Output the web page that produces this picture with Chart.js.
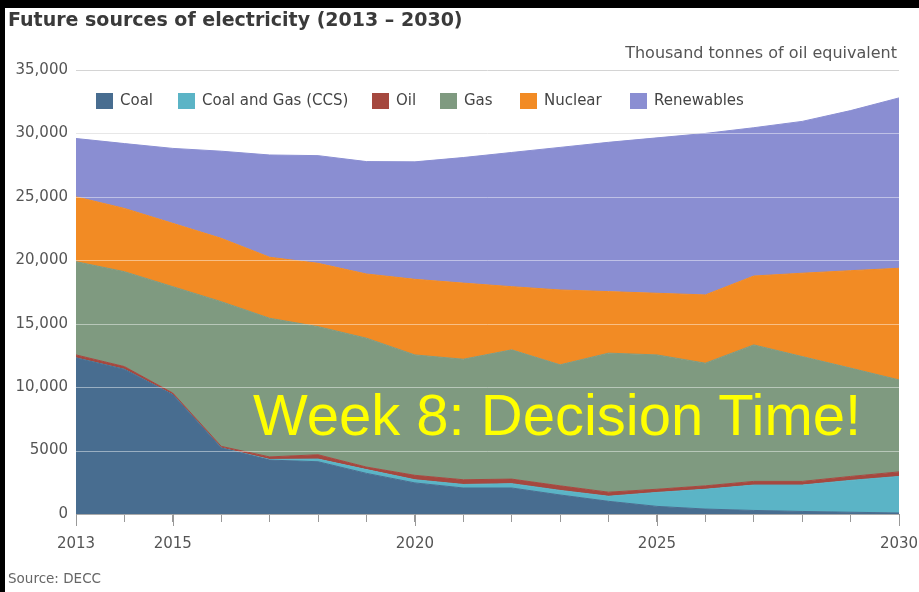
<!DOCTYPE html>
<html><head><meta charset="utf-8">
<script src="https://cdn.jsdelivr.net/npm/chart.js@4/dist/chart.umd.min.js"></script>
<style>
html,body{margin:0;padding:0;background:#000;width:919px;height:592px;overflow:hidden;}
#panel{position:absolute;left:5px;top:8px;width:914px;height:584px;background:#fff;}
#c{position:absolute;left:0;top:0;}
.t{position:absolute;white-space:nowrap;font-family:"DejaVu Sans",sans-serif;}
#title{left:8px;top:8px;font-size:19px;font-weight:bold;color:#3a3a3a;line-height:23px;}
#unit{right:22px;top:43px;font-size:16px;color:#555;line-height:20px;}
#source{left:8px;top:570px;font-size:13.5px;color:#666;line-height:16px;}
#overlay{left:253px;top:382px;font-family:"Liberation Sans",Arial,sans-serif;font-size:58px;color:#ffff00;line-height:66px;}
</style></head>
<body>
<div id="panel"></div>
<canvas id="c" width="919" height="592"></canvas>
<div class="t" id="title">Future sources of electricity (2013 – 2030)</div>
<div class="t" id="unit">Thousand tonnes of oil equivalent</div>
<div class="t" id="source">Source: DECC</div>
<div class="t" id="overlay">Week 8: Decision Time!</div>
<script>
const years = [2013,2014,2015,2016,2017,2018,2019,2020,2021,2022,2023,2024,2025,2026,2027,2028,2029,2030];
const coal       = [12300,11400,9400,5200,4250,4120,3200,2450,2050,2050,1500,1000,600,390,280,200,140,80];
const ccs        = [0,0,0,0,50,210,300,250,280,340,360,400,1100,1560,2000,2080,2510,2880];
const oil        = [240,220,130,130,200,340,200,350,370,360,360,320,250,270,290,290,310,360];
const gas        = [7350,7480,8390,11410,10930,10100,10160,9490,9500,10190,9540,10960,10590,9670,10760,9840,8540,7250];
const nuclear    = [5110,4990,4990,4990,4810,4990,5060,5960,6000,4980,5900,4850,4860,5380,5430,6570,7680,8800];
const renewables = [4600,5110,5910,6870,8060,8490,8860,9260,9900,10580,11240,11770,12250,12730,11690,11970,12620,13430];
const seriesNames  = ['Coal','Coal and Gas (CCS)','Oil','Gas','Nuclear','Renewables'];
const seriesValues = [coal, ccs, oil, gas, nuclear, renewables];
const seriesColors = ['#486d90','#5bb4c6','#a5483f','#7f9a80','#f28b24','#8a8ed2'];
const yTicks = [0,5000,10000,15000,20000,25000,30000,35000];
const xLabelYears = [2013,2015,2020,2025,2030];
const legendX = [96,178,372,440,520,630];

const FONT = '"DejaVu Sans", sans-serif';

const datasets = seriesNames.map((name,i)=>({
  label: name,
  data: years.map((yr,j)=>({x:yr, y:seriesValues[i][j]})),
  backgroundColor: seriesColors[i],
  borderColor: seriesColors[i],
  borderWidth: 1,
  pointRadius: 0,
  tension: 0,
  fill: i===0 ? 'origin' : '-1'
}));

const overlayPlugin = {
  id:'overlayPlugin',
  afterDatasetsDraw(chart){
    const {ctx, chartArea:a, scales:{x,y}} = chart;
    ctx.save();
    ctx.strokeStyle='rgba(255,255,255,0.45)';
    ctx.lineWidth=1;
    yTicks.forEach(v=>{
      if(v===0||v===35000) return;
      const py=Math.round(y.getPixelForValue(v))+0.5;
      ctx.beginPath(); ctx.moveTo(a.left,py); ctx.lineTo(a.right,py); ctx.stroke();
    });
    ctx.strokeStyle='#999';
    xLabelYears.forEach(yr=>{
      const px=Math.round(x.getPixelForValue(yr))+0.5;
      ctx.beginPath(); ctx.moveTo(px,a.bottom); ctx.lineTo(px,a.bottom+12); ctx.stroke();
    });
    ctx.font='15px '+FONT;
    ctx.textBaseline='middle';
    ctx.textAlign='left';
    chart.data.datasets.forEach((ds,i)=>{
      ctx.fillStyle=ds.backgroundColor;
      ctx.fillRect(legendX[i], a.top+23, 17, 16);
      ctx.fillStyle='#444';
      ctx.fillText(ds.label, legendX[i]+24, a.top+31.5);
    });
    ctx.restore();
  }
};

new Chart(document.getElementById('c'), {
  type:'line',
  data:{datasets},
  options:{
    responsive:false,
    animation:false,
    devicePixelRatio:1,
    layout:{padding:{top:70,right:20,left:0,bottom:0}},
    plugins:{legend:{display:false},tooltip:{enabled:false}},
    scales:{
      x:{
        type:'linear', min:2013, max:2030,
        afterFit:(s)=>{s.height=78; s.paddingLeft=0; s.paddingRight=0;},
        ticks:{stepSize:1, autoSkip:false, maxTicksLimit:30, maxRotation:0, padding:13,
          color:'#555', font:{family:FONT,size:15},
          callback:(v)=> xLabelYears.includes(v) ? String(v) : ''},
        grid:{drawOnChartArea:false, drawTicks:true, tickLength:8, color:'#999'},
        border:{display:true, color:'#aaa'}
      },
      y:{
        stacked:true, min:0, max:35000,
        afterFit:(s)=>{s.width=76; s.paddingTop=0; s.paddingBottom=0;},
        ticks:{stepSize:5000, padding:8, color:'#555', font:{family:FONT,size:15},
          callback:(v)=> v>=10000 ? v.toLocaleString('en-US') : String(v)},
        grid:{color:'#d4d4d4', drawTicks:false},
        border:{display:false}
      }
    }
  },
  plugins:[overlayPlugin]
});
</script>
</body></html>
